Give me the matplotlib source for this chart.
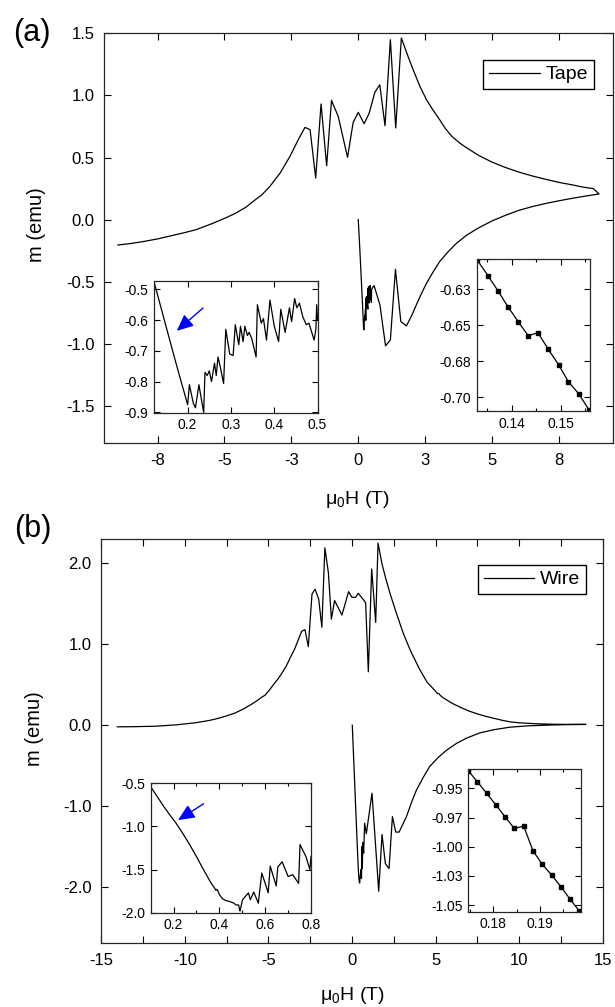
import matplotlib
matplotlib.use('Agg')
import matplotlib.pyplot as plt
from matplotlib.ticker import FixedLocator, FormatStrFormatter

plt.rcParams['font.family'] = ['Liberation Sans', 'DejaVu Sans']
plt.rcParams['mathtext.fontset'] = 'custom'
plt.rcParams['mathtext.rm'] = 'Liberation Sans'
plt.rcParams['mathtext.it'] = 'Liberation Sans:italic'
plt.rcParams['axes.unicode_minus'] = False

# ---- panel (a): tape, full loop ----
tape_h = [0.0, 0.05, 0.10, 0.15, 0.20, 0.21, 0.24, 0.25, 0.27, 0.283, 0.29, 0.30, 0.31,
          0.33, 0.36, 0.365, 0.38, 0.39, 0.41, 0.415, 0.43, 0.445, 0.47, 0.49, 0.50,
          0.59, 0.81, 1.02, 1.20, 1.39, 1.59, 1.80, 2.0, 2.17, 2.35, 2.55, 2.8, 3.04,
          3.35, 3.67, 4.05, 4.47, 5.0, 5.5, 6.0, 6.5, 7.0, 7.5, 8.0, 8.5, 9.0,
          8.78, 8.4, 8.0, 7.5, 7.0, 6.5, 6.0, 5.5, 5.0, 4.5, 4.0, 3.79, 3.5, 3.25, 3.04,
          2.8, 2.55, 2.3, 2.05, 1.85, 1.61, 1.40, 1.20,
          1.00, 0.805, 0.62, 0.41, 0.22, 0.0, -0.19, -0.40, -0.75, -1.00, -1.18,
          -1.39, -1.59, -1.80, -1.99, -2.24, -2.55, -2.92, -3.30, -3.6, -3.86, -4.2,
          -4.59, -5.0, -5.5, -6.05, -6.5, -7.0, -7.5, -8.0, -8.5, -8.98]
tape_m = [0.0, -0.20, -0.42, -0.64, -0.875, -0.887, -0.77, -0.80, -0.72, -0.81, -0.63, -0.71, -0.62,
          -0.67, -0.72, -0.55, -0.66, -0.54, -0.67, -0.565, -0.64, -0.53, -0.61, -0.665, -0.56,
          -0.53, -0.686, -1.016, -0.968, -0.40, -0.82, -0.855, -0.77, -0.686, -0.60, -0.512, -0.42, -0.338,
          -0.26, -0.19, -0.125, -0.069, -0.01, 0.035, 0.075, 0.105, 0.13, 0.152, 0.172, 0.19, 0.207,
          0.25, 0.262, 0.28, 0.30, 0.325, 0.352, 0.383, 0.42, 0.463, 0.517, 0.585, 0.617, 0.67, 0.735, 0.805,
          0.88, 0.965, 1.075, 1.207, 1.32, 1.462, 0.738, 1.448,
          0.756, 1.086, 1.025, 0.858, 0.772, 0.864, 0.783, 0.502, 0.832, 0.96, 0.434,
          0.931, 0.335, 0.724, 0.743, 0.644, 0.51, 0.375, 0.268, 0.20, 0.158, 0.10,
          0.051, 0.01, -0.035, -0.08, -0.105, -0.13, -0.155, -0.175, -0.192, -0.204]

# inset: flux jumps on the virgin curve
tape_in1_h = [0.1223, 0.150, 0.175, 0.200, 0.204, 0.213, 0.218, 0.226, 0.232, 0.237, 0.240,
              0.245, 0.250, 0.255, 0.262, 0.266, 0.270, 0.275, 0.283, 0.288, 0.297, 0.305,
              0.310, 0.318, 0.322, 0.328, 0.332, 0.338, 0.342, 0.348, 0.358, 0.361, 0.370,
              0.375, 0.382, 0.390, 0.400, 0.410, 0.415, 0.425, 0.435, 0.440, 0.447, 0.452,
              0.458, 0.466, 0.474, 0.480, 0.492, 0.496, 0.498, 0.500]
tape_in1_m = [-0.475, -0.62, -0.75, -0.875, -0.81, -0.87, -0.885, -0.81, -0.86, -0.90, -0.77,
              -0.78, -0.765, -0.80, -0.74, -0.78, -0.72, -0.75, -0.806, -0.63, -0.71, -0.715,
              -0.615, -0.68, -0.62, -0.67, -0.62, -0.65, -0.64, -0.66, -0.72, -0.55, -0.61,
              -0.595, -0.665, -0.535, -0.62, -0.67, -0.565, -0.64, -0.56, -0.605, -0.53, -0.56,
              -0.545, -0.59, -0.615, -0.61, -0.665, -0.63, -0.55, -0.60]

# inset: single small jump
tape_in2_h = [0.1330, 0.1352, 0.1373, 0.1393, 0.1414, 0.1434, 0.1454, 0.1475, 0.1496,
              0.1516, 0.1537, 0.1558]
tape_in2_m = [-0.6047, -0.6156, -0.6264, -0.6373, -0.6477, -0.6572, -0.6552, -0.6667,
              -0.6774, -0.6892, -0.6975, -0.7088]

# ---- panel (b): wire, full loop ----
wire_h = [0.02, 0.10, 0.20, 0.30, 0.38, 0.42, 0.46, 0.50, 0.55, 0.57, 0.60, 0.62, 0.65,
          0.70, 0.76, 0.86, 1.20, 1.60, 1.80, 2.00, 2.22, 2.42, 2.62, 2.82, 3.26, 3.55, 3.86,
          4.25, 4.65, 5.15, 5.65, 6.25, 6.85, 7.65, 8.5, 9.43, 10.5, 12.0, 13.0, 14.0,
          13.0, 12.0, 11.0, 10.0, 9.5, 9.0, 8.5, 8.0, 7.5, 7.0, 6.5, 6.0, 5.45, 5.3, 5.2,
          5.1, 5.0, 4.5, 4.05, 3.5, 3.06, 2.6, 2.26, 2.0, 1.8,
          1.56, 1.42, 1.18, 0.98, 0.82, 0.76, 0.38, 0.22, 0.0, -0.2, -0.6, -1.04, -1.23,
          -1.41, -1.62, -1.80, -1.99, -2.21, -2.39, -2.61, -2.81, -3.01, -3.43, -3.7, -3.93,
          -4.2, -4.43, -4.7, -4.93, -5.2, -5.37, -5.7, -6.0, -6.5, -7.0, -7.5, -8.0, -8.5,
          -9.36, -10.5, -11.7, -13.0, -14.03]
wire_m = [0.0, -0.40, -0.90, -1.40, -1.78, -1.91, -1.95, -1.85, -1.78, -1.89, -1.50, -1.77, -1.45,
          -1.58, -1.21, -1.34, -0.84, -2.05, -1.35, -1.71, -1.77, -1.13, -1.32, -1.32, -1.13, -0.96, -0.80,
          -0.65, -0.51, -0.40, -0.31, -0.225, -0.16, -0.095, -0.055, -0.025, -0.008, 0.003, 0.008, 0.01,
          0.01, 0.012, 0.018, 0.03, 0.04, 0.06, 0.085, 0.11, 0.14, 0.175, 0.22, 0.27, 0.34, 0.365, 0.39,
          0.395, 0.42, 0.53, 0.69, 0.92, 1.14, 1.42, 1.64, 1.83, 1.99,
          2.25, 1.27, 1.93, 0.66, 1.51, 1.53, 1.63, 1.58, 1.58, 1.65, 1.36, 1.54, 1.31,
          1.885, 2.19, 1.21, 1.56, 1.68, 1.62, 0.97, 1.18, 1.16, 0.94, 0.83, 0.73,
          0.64, 0.57, 0.50, 0.436, 0.37, 0.35, 0.30, 0.26, 0.20, 0.15, 0.115, 0.085, 0.06,
          0.03, 0.005, -0.012, -0.018, -0.02]

wire_in1_h = [0.100, 0.130, 0.160, 0.190, 0.210, 0.240, 0.270, 0.300, 0.320, 0.341, 0.360,
              0.375, 0.385, 0.390, 0.400, 0.414, 0.430, 0.444, 0.460, 0.473,
              0.484, 0.488, 0.490, 0.501, 0.527, 0.535, 0.550, 0.570, 0.585, 0.600, 0.613,
              0.622, 0.648, 0.655, 0.674, 0.700, 0.720, 0.746, 0.752, 0.778, 0.795, 0.800]
wire_in1_m = [-0.54, -0.66, -0.78, -0.89, -0.96, -1.08, -1.21, -1.35, -1.45, -1.55, -1.64,
              -1.70, -1.74, -1.73, -1.79, -1.84, -1.86, -1.87, -1.885, -1.91,
              -1.91, -1.965, -1.98, -1.85, -1.77, -1.85, -1.76, -1.89, -1.54, -1.66, -1.77,
              -1.46, -1.69, -1.47, -1.41, -1.58, -1.56, -1.66, -1.21, -1.35, -1.50, -1.35]

wire_in2_h = [0.17465, 0.17657, 0.17859, 0.18058, 0.18251, 0.18450, 0.18651, 0.18850,
              0.19049, 0.19251, 0.19450, 0.19642, 0.19842]
wire_in2_m = [-0.9349, -0.9443, -0.9543, -0.9643, -0.9743, -0.9843, -0.9823, -1.0035,
              -1.0151, -1.0243, -1.0343, -1.0448, -1.0551]

# tick labels as printed
a_xticks = [-7.5, -5.0, -2.5, 0.0, 2.5, 5.0, 7.5]
a_xlabels = ['-8', '-5', '-3', '0', '3', '5', '8']
a_in2_yticks = [-0.625, -0.65, -0.675, -0.70]
a_in2_ylabels = ['-0.63', '-0.65', '-0.68', '-0.70']
b_in2_yticks = [-0.95, -0.975, -1.0, -1.025, -1.05]
b_in2_ylabels = ['-0.95', '-0.97', '-1.00', '-1.03', '-1.05']

W, H = 615, 1007
fig = plt.figure(figsize=(W / 100, H / 100), dpi=100)


def box(l, t, r, b):
    # pixel box -> figure fraction
    return [l / W, 1 - b / H, (r - l) / W, (b - t) / H]


def style(ax, fs, ln, pad=4):
    for s in ax.spines.values():
        s.set_linewidth(0.9)
        s.set_color('0.15')
    ax.tick_params(which='both', direction='in', top=True, right=True,
                   labelsize=fs, width=0.8, pad=pad)
    ax.tick_params(which='major', length=ln)
    ax.tick_params(which='minor', length=ln * 0.6)


lw = 0.9
arrow = dict(arrowstyle='-|>,head_length=1.0,head_width=0.45', color='blue', lw=1)

# ---------- (a) ----------
ax = fig.add_axes(box(104, 33.3, 612.5, 443.3))
ax.plot(tape_h, tape_m, color='black', lw=lw, label='Tape')
ax.set_xlim(-9.5, 9.5)
ax.set_ylim(-1.8, 1.5)
ax.xaxis.set_major_locator(FixedLocator(a_xticks))
ax.set_xticklabels(a_xlabels)
ax.set_yticks([-1.5, -1.0, -0.5, 0.0, 0.5, 1.0, 1.5])
ax.yaxis.set_major_formatter(FormatStrFormatter('%.1f'))
style(ax, 12, 5, pad=7)
ax.legend(loc='upper right', bbox_to_anchor=(0.9636, 0.935), borderaxespad=0,
          fancybox=False, edgecolor='black', framealpha=1, fontsize=14,
          handlelength=2.6, handletextpad=0.3, borderpad=0.3)

ia = fig.add_axes(box(154, 280.7, 317.6, 412.7))
ia.plot(tape_in1_h, tape_in1_m, color='black', lw=lw)
ia.set_xlim(0.1223, 0.5)
ia.set_ylim(-0.901, -0.472)
ia.set_xticks([0.2, 0.3, 0.4, 0.5])
ia.set_yticks([-0.9, -0.8, -0.7, -0.6, -0.5])
ia.xaxis.set_major_formatter(FormatStrFormatter('%.1f'))
ia.yaxis.set_major_formatter(FormatStrFormatter('%.1f'))
style(ia, 10, 4)
ia.annotate('', xy=(0.170, -0.641), xytext=(0.24, -0.555), arrowprops=arrow)

ib = fig.add_axes(box(476.7, 259.3, 590, 411))
ib.plot(tape_in2_h, tape_in2_m, color='black', lw=lw, marker='s', ms=2.2)
ib.set_xlim(0.1329, 0.156)
ib.set_ylim(-0.7095, -0.6042)
ib.set_xticks([0.14, 0.15])
ib.set_xticks([0.135, 0.145, 0.155], minor=True)
ib.xaxis.set_major_formatter(FormatStrFormatter('%.2f'))
ib.yaxis.set_major_locator(FixedLocator(a_in2_yticks))
ib.set_yticklabels(a_in2_ylabels)
style(ib, 10, 4)

fig.text(32 / W, 1 - 33 / H, '(a)', fontsize=22, ha='center', va='center')
fig.text(357 / W, 1 - 500 / H, 'μ$_\\mathregular{0}$H (T)', fontsize=14,
         ha='center', va='center')
fig.text(36 / W, 1 - 225 / H, 'm (emu)', fontsize=14.5, rotation=90,
         ha='center', va='center')

# ---------- (b) ----------
bx = fig.add_axes(box(101.2, 539, 602.7, 943))
bx.plot(wire_h, wire_m, color='black', lw=lw, label='Wire')
bx.set_xlim(-15, 15)
bx.set_ylim(-2.69, 2.3)
bx.set_xticks([-15, -10, -5, 0, 5, 10, 15])
bx.set_xticks([-12.5, -7.5, -2.5, 2.5, 7.5, 12.5], minor=True)
bx.set_yticks([-2.0, -1.0, 0.0, 1.0, 2.0])
bx.yaxis.set_major_formatter(FormatStrFormatter('%.1f'))
style(bx, 12, 5, pad=7)
bx.tick_params(which='minor', length=5)
bx.legend(loc='upper right', bbox_to_anchor=(0.9673, 0.9356), borderaxespad=0,
          fancybox=False, edgecolor='black', framealpha=1, fontsize=14,
          handlelength=2.6, handletextpad=0.3, borderpad=0.3)

ic = fig.add_axes(box(150.7, 783.3, 311, 912.7))
ic.plot(wire_in1_h, wire_in1_m, color='black', lw=lw)
ic.set_xlim(0.1, 0.8)
ic.set_ylim(-2.0, -0.5)
ic.set_xticks([0.2, 0.4, 0.6, 0.8])
ic.set_xticks([0.1, 0.3, 0.5, 0.7], minor=True)
ic.set_yticks([-2.0, -1.5, -1.0, -0.5])
ic.xaxis.set_major_formatter(FormatStrFormatter('%.1f'))
ic.yaxis.set_major_formatter(FormatStrFormatter('%.1f'))
style(ic, 10, 4)
ic.annotate('', xy=(0.209, -0.944), xytext=(0.341, -0.72), arrowprops=arrow)

idd = fig.add_axes(box(468.3, 769.3, 580.7, 911.7))
idd.plot(wire_in2_h, wire_in2_m, color='black', lw=lw, marker='s', ms=2.2)
idd.set_xlim(0.17465, 0.19871)
idd.set_ylim(-1.0556, -0.9337)
idd.set_xticks([0.18, 0.19])
idd.set_xticks([0.175, 0.185, 0.195], minor=True)
idd.xaxis.set_major_formatter(FormatStrFormatter('%.2f'))
idd.yaxis.set_major_locator(FixedLocator(b_in2_yticks))
idd.set_yticklabels(b_in2_ylabels)
style(idd, 10, 4)

fig.text(33 / W, 1 - 529 / H, '(b)', fontsize=22, ha='center', va='center')
fig.text(352 / W, 1 - 995 / H, 'μ$_\\mathregular{0}$H (T)', fontsize=14,
         ha='center', va='center')
fig.text(34 / W, 1 - 729 / H, 'm (emu)', fontsize=14.5, rotation=90,
         ha='center', va='center')

fig.savefig('out.png', dpi=100)
